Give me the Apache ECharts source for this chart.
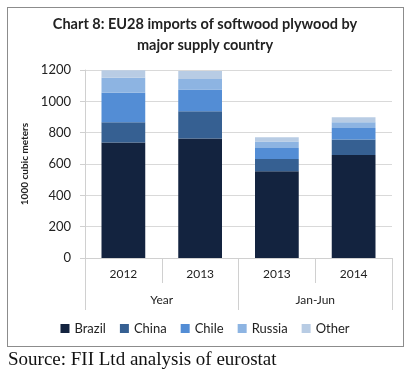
<!DOCTYPE html>
<html>
<head>
<meta charset="utf-8">
<script src="https://cdn.jsdelivr.net/npm/echarts@6/dist/echarts.min.js"></script>
<style>
html,body{margin:0;padding:0;background:#fff;}
#c{width:410px;height:370px;position:absolute;left:0;top:0;}
#frame{position:absolute;left:7px;top:7px;width:395px;height:338px;border:1px solid #8c8c8c;pointer-events:none;}
</style>
</head>
<body>
<div id="c"></div>
<div id="frame"></div>
<script>
const categories = ['2012', '2013', '2013', '2014'];
const groups = ['Year', 'Jan-Jun'];
const brazil = [738, 762, 553, 658];
const china  = [128, 174, 79, 98];
const chile  = [189, 139, 70, 74];
const russia = [96, 68, 41, 36];
const other  = [47, 51, 27, 32];
const yTicks = { min: 0, max: 1200, interval: 200 };

const font = 'Lato, "Open Sans", sans-serif';
const colors = ['#13233f', '#366092', '#538dd5', '#8db4e2', '#b8cce4'];
const names = ['Brazil', 'China', 'Chile', 'Russia', 'Other'];
const values = [brazil, china, chile, russia, other];

const chart = echarts.init(document.getElementById('c'));
chart.setOption({
  animation: false,
  color: colors,
  title: [
    {
      text: 'Chart 8: EU28 imports of softwood plywood by\nmajor supply country',
      left: 'center', top: 9,
      textStyle: { fontFamily: font, fontSize: 14.5, fontWeight: 'bold', color: '#222', lineHeight: 21 }
    },
    {
      text: 'Source: FII Ltd analysis of eurostat',
      left: 3, top: 346,
      textStyle: { fontFamily: '"Liberation Serif", "DejaVu Serif", serif', fontSize: 19, fontWeight: 'normal', color: '#111' }
    }
  ],
  legend: {
    data: names,
    top: 317,
    left: 'center',
    itemWidth: 9, itemHeight: 9, itemGap: 14,
    icon: 'rect',
    textStyle: { fontFamily: font, fontSize: 13, color: '#222' }
  },
  grid: { left: 85, right: 18, top: 70, bottom: 112, containLabel: false },
  xAxis: [
    {
      type: 'category',
      data: categories,
      axisLine: { show: true, lineStyle: { color: '#d0d0d0' } },
      axisTick: { show: true, length: 25, interval: 0, lineStyle: { color: '#d0d0d0' } },
      axisLabel: { margin: 10, interval: 0, fontFamily: font, fontSize: 12, color: '#222' }
    },
    {
      type: 'category',
      data: groups,
      position: 'bottom',
      offset: 0,
      axisLine: { show: true, lineStyle: { color: 'rgba(0,0,0,0)' } },
      axisTick: { show: true, length: 52, interval: 0, lineStyle: { color: '#d0d0d0' } },
      axisLabel: { margin: 36, interval: 0, fontFamily: font, fontSize: 12, color: '#222' }
    }
  ],
  yAxis: {
    type: 'value',
    min: yTicks.min, max: yTicks.max, interval: yTicks.interval,
    name: '1000 cubic meters',
    nameLocation: 'middle',
    nameGap: 50,
    nameTextStyle: { fontFamily: font, fontSize: 10, fontWeight: 'bold', color: '#222' },
    axisLine: { show: true, lineStyle: { color: '#d0d0d0' } },
    axisTick: { show: true, length: 5, lineStyle: { color: '#d0d0d0' } },
    axisLabel: { margin: 14, fontFamily: font, fontSize: 13, color: '#222', formatter: v => String(v) },
    splitLine: { lineStyle: { color: '#d9d9d9' } }
  },
  series: names.map((n, i) => ({
    name: n,
    type: 'bar',
    stack: 'total',
    xAxisIndex: 0,
    barWidth: '57%',
    data: values[i]
  }))
});
</script>
</body>
</html>
